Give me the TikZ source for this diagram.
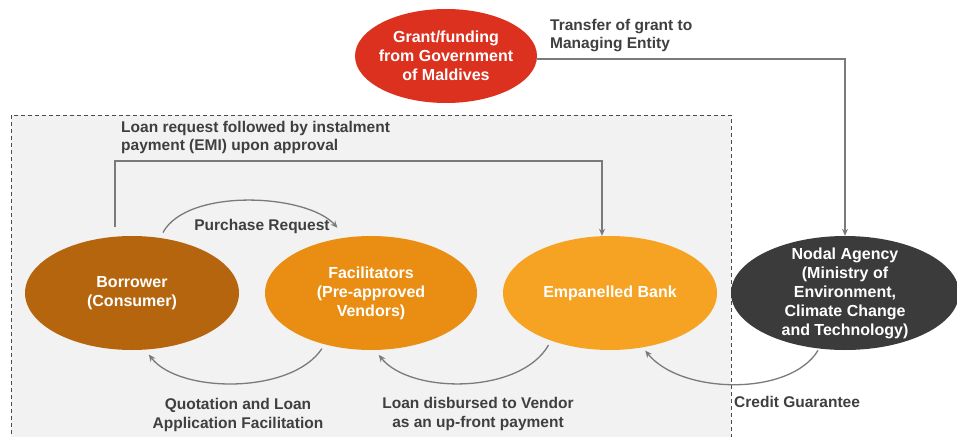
\documentclass[tikz,border=0pt]{standalone}
\usepackage{fontspec}
\setmainfont{Liberation Sans}
\usetikzlibrary{shapes.geometric,arrows.meta}
\definecolor{borc}{HTML}{B5650E}
\definecolor{facc}{HTML}{E98E12}
\definecolor{bankc}{HTML}{F6A323}
\definecolor{nodc}{HTML}{3B3B3B}
\definecolor{grantc}{HTML}{DD3120}
\definecolor{txtc}{HTML}{3F3F3F}
\definecolor{linec}{HTML}{7A7A7A}
\definecolor{boxc}{HTML}{F2F2F2}
\tikzset{
  oval/.style={ellipse, inner sep=0pt, minimum width=#1},
  ovaltext/.style={text=white, font=\fontsize{16}{19}\selectfont\bfseries, align=center},
  lbl/.style={text=txtc, font=\fontsize{15.5}{18.5}\selectfont\bfseries, inner sep=0pt},
  conn/.style={draw=linec, line width=1.3pt, -{Stealth[length=7pt,width=6pt]}},
}
\begin{document}
\begin{tikzpicture}[x=1pt,y=-1pt]
\useasboundingbox (0,0) rectangle (957,436);
\fill[white] (0,0) rectangle (957,436);
\draw[dash pattern=on 4pt off 3pt, draw=black!70, fill=boxc, line width=0.7pt] (11,115) rectangle (731,445);

\node[oval=214pt, minimum height=114pt, fill=borc,
  label={[ovaltext]center:Borrower\\(Consumer)}] (bor) at (132,293) {};
\node[oval=212pt, minimum height=114pt, fill=facc,
  label={[ovaltext]center:Facilitators\\(Pre-approved\\Vendors)}] (fac) at (371,293) {};
\node[oval=214pt, minimum height=114pt, fill=bankc,
  label={[ovaltext]center:Empanelled Bank}] (bank) at (610,293) {};
\node[oval=228pt, minimum height=114pt, fill=nodc,
  label={[ovaltext]center:Nodal Agency\\(Ministry of\\Environment,\\Climate Change\\and Technology)}] (nod) at (845,293) {};
\node[oval=182pt, minimum height=94pt, fill=grantc,
  label={[ovaltext]center:Grant/funding\\from Government\\of Maldives}] (grant) at (446,56) {};

% labels
\node[lbl, anchor=north west, align=left] (tlbl) at (550,19) {Transfer of grant to\\Managing Entity};
\node[lbl, anchor=north west, align=left] (llbl) at (121,121) {Loan request followed by instalment\\payment (EMI) upon approval};
\node[lbl] (plbl) at (262,226) {Purchase Request};
\node[lbl, align=center] (qlbl) at (238,415) {Quotation and Loan\\Application Facilitation};
\node[lbl, align=center] (dlbl) at (478,414) {Loan disbursed to Vendor\\as an up-front payment};
\node[lbl, anchor=west] (clbl) at (734,402) {Credit Guarantee};

% connectors
\coordinate (gr) at (grant.east |- 0,59);
\draw[conn] (gr) -| (nod.north);
\coordinate (bt) at (115,227);
\draw[conn] (bt) |- (602,161) -- (bank.north -| 602,0);
\draw[conn, shorten <=6pt, shorten >=13pt] (bor.63) .. controls +(27,-50) and +(-40,-44) .. (fac.114);
\draw[conn, shorten <=5pt, shorten >=6pt] (fac.228) .. controls +(-33,50) and +(34,44) .. (bor.283);
\draw[conn, shorten <=5pt, shorten >=6pt] (bank.219) .. controls +(-31,54) and +(35,44) .. (fac.274);
\draw[conn, shorten <=2pt, shorten >=4pt] (nod.245) .. controls +(-29,48) and +(38,47) .. (bank.301);
\end{tikzpicture}
\end{document}
